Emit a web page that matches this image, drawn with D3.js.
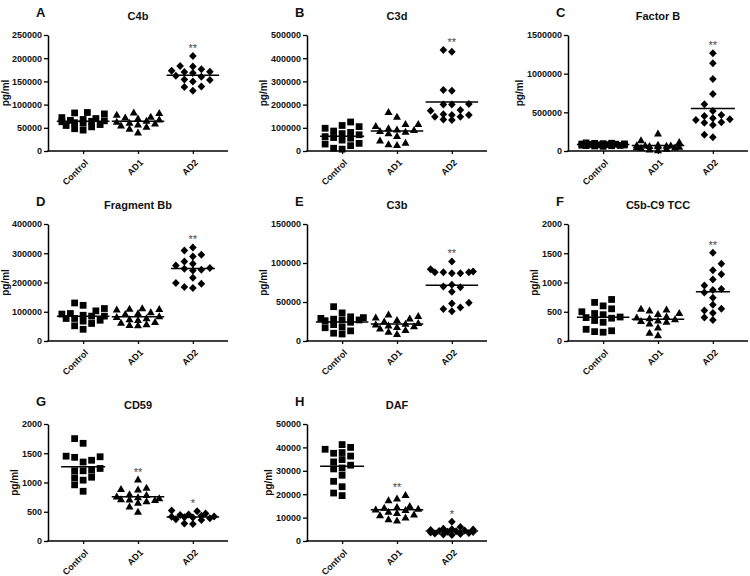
<!DOCTYPE html>
<html>
<head>
<meta charset="utf-8">
<script src="https://cdn.jsdelivr.net/npm/d3@7"></script>
<style>
  html, body { margin: 0; padding: 0; background: #fff; }
  text { font-family: Arial, "Liberation Sans", sans-serif; }
</style>
</head>
<body>
<script>
// ---------------- data ----------------
const categories = ["Control", "AD1", "AD2"];
const panelLetters = ["A", "B", "C", "D", "E", "F", "G", "H"];
const panelTitles = ["C4b", "C3d", "Factor B", "Fragment Bb", "C3b", "C5b-C9 TCC", "CD59", "DAF"];
const yMaxima = [250000, 500000, 1500000, 400000, 150000, 2000, 2000, 50000];
const yTickSteps = [50000, 100000, 500000, 100000, 50000, 500, 500, 10000];
const yLabel = "pg/ml";
const significance = [
  ["", "", "**"], ["", "", "**"], ["", "", "**"], ["", "", "**"],
  ["", "", "**"], ["", "", "**"], ["", "**", "*"], ["", "**", "*"]
];

// A  C4b
const c4bControl = [83000, 82000, 80000, 72000, 70000, 68000, 66000, 65000, 64000, 63000, 61000, 60000, 57000, 55000, 52000, 48000, 45000];
const c4bAD1 = [83000, 82000, 78000, 74000, 72000, 70000, 68000, 65000, 63000, 61000, 59000, 57000, 55000, 52000, 48000, 40000];
const c4bAD2 = [205000, 183000, 182000, 176000, 173000, 171000, 170000, 168000, 162000, 160000, 154000, 153000, 150000, 139000, 138000, 130000];
// B  C3d
const c3dControl = [125000, 110000, 105000, 98000, 86000, 80000, 75000, 70000, 62000, 58000, 55000, 47000, 33000, 30000, 23000, 12000, 8000];
const c3dAD1 = [168000, 148000, 116000, 116000, 108000, 98000, 93000, 90000, 86000, 83000, 76000, 65000, 45000, 36000, 29000, 26000];
const c3dAD2 = [435000, 428000, 263000, 260000, 203000, 200000, 200000, 177000, 174000, 158000, 155000, 155000, 148000, 148000, 136000, 134000];
// C  Factor B
const factorBControl = [105000, 100000, 98000, 95000, 92000, 90000, 88000, 85000, 82000, 80000, 78000, 75000, 72000, 70000, 68000, 65000, 60000];
const factorBAD1 = [225000, 138000, 116000, 80000, 75000, 72000, 70000, 68000, 65000, 60000, 55000, 50000, 45000, 40000, 30000, 20000, 10000];
const factorBAD2 = [1263000, 1134000, 931000, 737000, 603000, 517000, 465000, 453000, 422000, 409000, 401000, 371000, 366000, 336000, 211000, 177000];
// D  Fragment Bb
const bbControl = [130000, 122000, 111000, 103000, 94000, 92000, 88000, 85000, 85000, 77000, 77000, 71000, 68000, 60000, 52000, 40000];
const bbAD1 = [112000, 110000, 109000, 108000, 98000, 95000, 92000, 85000, 82000, 78000, 74000, 72000, 65000, 62000, 57000, 55000, 54000];
const bbAD2 = [320000, 309000, 295000, 289000, 272000, 264000, 258000, 250000, 247000, 244000, 241000, 216000, 198000, 196000, 185000, 181000];
// E  C3b
const c3bControl = [44000, 36000, 31000, 30000, 29000, 28000, 27000, 27000, 26000, 24000, 21000, 18000, 17000, 13000, 10000, 9000];
const c3bAD1 = [34000, 32000, 30000, 29000, 27000, 25000, 23000, 22000, 21000, 20000, 19000, 18000, 16000, 14000, 12000, 9000];
const c3bAD2 = [102000, 92000, 89000, 88000, 88000, 87000, 88000, 87000, 72000, 70000, 69000, 63000, 49000, 48000, 43000, 41000, 38000];
// F  C5b-C9 TCC
const tccControl = [710, 660, 600, 550, 500, 470, 450, 410, 400, 390, 350, 320, 200, 175, 160, 150];
const tccAD1 = [550, 540, 520, 480, 460, 420, 400, 390, 370, 350, 340, 330, 300, 230, 140, 100];
const tccAD2 = [1510, 1320, 1210, 1140, 1050, 950, 890, 870, 830, 740, 620, 550, 520, 480, 400, 360];
// G  CD59
const cd59Control = [1750, 1670, 1450, 1440, 1430, 1380, 1350, 1240, 1210, 1200, 1200, 1090, 1080, 1040, 960, 850];
const cd59AD1 = [1050, 910, 890, 880, 800, 785, 760, 750, 730, 715, 710, 700, 680, 655, 590, 500];
const cd59AD2 = [520, 510, 470, 455, 445, 430, 420, 415, 405, 400, 390, 370, 360, 300, 290];
// H  DAF
const dafControl = [41200, 40000, 39200, 37800, 37500, 36300, 34800, 33800, 32400, 31200, 30800, 28100, 25500, 23200, 20500, 19400];
const dafAD1 = [19700, 18200, 17400, 15000, 14500, 14200, 13800, 13500, 13200, 12500, 12000, 11300, 11000, 10000, 9300, 8800];
const dafAD2 = [8200, 6000, 5200, 5000, 4900, 4700, 4500, 4300, 4200, 4000, 3800, 3600, 3400, 3200, 3000, 2800, 2600];

const panelValues = [
  [c4bControl, c4bAD1, c4bAD2],
  [c3dControl, c3dAD1, c3dAD2],
  [factorBControl, factorBAD1, factorBAD2],
  [bbControl, bbAD1, bbAD2],
  [c3bControl, c3bAD1, c3bAD2],
  [tccControl, tccAD1, tccAD2],
  [cd59Control, cd59AD1, cd59AD2],
  [dafControl, dafAD1, dafAD2]
];

// ---------------- layout ----------------
const W = 750, H = 576;
const colX = [48, 307, 568];
const rowTop = [35, 224, 424];
const rowBottom = [151, 341, 541];
const axisLen = 180;

const svg = d3.select("body").append("svg").attr("width", W).attr("height", H);

const squarePath = d3.symbol().type(d3.symbolSquare).size(46)();
const trianglePath = "M0,-4L4,3L-4,3Z";
const diamondPath = "M0,-4L3.8,0L0,4L-3.8,0Z";
const shapes = [squarePath, trianglePath, diamondPath];

// collision-based beeswarm: lowest values placed first near the centre
function swarm(vals, y, cx) {
  const pts = vals.map(v => ({ v, py: y(v) })).sort((a, b) => a.v - b.v);
  const step = 4.25, sepX = 8, sepY = 7, maxOff = 22;
  const cands = [0];
  for (let k = 1; k * step <= maxOff; k++) cands.push(k * step, -k * step);
  const placed = [];
  pts.forEach((p, idx) => {
    let best = null, bestCost = Infinity;
    const cs = idx % 2 ? cands.map(c => -c) : cands;
    for (const o of cs) {
      let cost = 0;
      for (const q of placed) {
        const ox = sepX - Math.abs(q.dx - o), oy = sepY - Math.abs(q.py - p.py);
        if (ox > 0 && oy > 0) cost += ox * oy;
      }
      if (cost < 0.01) { best = o; bestCost = 0; break; }
      if (cost < bestCost - 1e-6) { bestCost = cost; best = o; }
    }
    p.dx = best;
    p.px = cx + best;
    placed.push(p);
  });
  return pts;
}

panelValues.forEach((groups, i) => {
  const col = i % 3, row = Math.floor(i / 3);
  const x0 = colX[col], top = rowTop[row], bottom = rowBottom[row];
  const g = svg.append("g");

  const y = d3.scaleLinear().domain([0, yMaxima[i]]).range([bottom, top]);
  const x = d3.scalePoint().domain(categories).range([x0, x0 + axisLen]).padding(0.64);

  // y axis
  const ya = g.append("g").attr("transform", `translate(${x0},0)`)
    .call(d3.axisLeft(y)
      .tickValues(d3.range(0, yMaxima[i] + 1, yTickSteps[i]))
      .tickFormat(d3.format("d"))
      .tickSize(4).tickSizeOuter(0).tickPadding(2));
  ya.select(".domain").attr("stroke", "#000").attr("stroke-width", 1.5);
  ya.selectAll(".tick line").attr("stroke", "#000").attr("stroke-width", 1.3);
  ya.selectAll(".tick text").attr("font-size", 9).attr("font-weight", "bold")
    .attr("font-family", "Arial, 'Liberation Sans', sans-serif").attr("fill", "#111");

  let maxW = 0;
  ya.selectAll(".tick text").each(function () { maxW = Math.max(maxW, this.getComputedTextLength()); });

  // x axis
  const xa = g.append("g").attr("transform", `translate(0,${bottom})`)
    .call(d3.axisBottom(x).tickSize(3).tickSizeOuter(0));
  xa.select(".domain").remove();
  xa.selectAll(".tick line").attr("stroke", "#000").attr("stroke-width", 1.3);
  xa.selectAll(".tick text")
    .attr("font-size", 9).attr("font-weight", "bold")
    .attr("font-family", "Arial, 'Liberation Sans', sans-serif").attr("fill", "#111")
    .attr("x", 0).attr("y", 0).attr("dy", "0.35em")
    .attr("text-anchor", "end")
    .attr("transform", "translate(3,10) rotate(-45)");
  g.append("line")
    .attr("x1", x0 - 0.75).attr("x2", x0 + axisLen)
    .attr("y1", bottom).attr("y2", bottom)
    .attr("stroke", "#000").attr("stroke-width", 1.5);

  // y label
  g.append("text")
    .attr("transform", `translate(${Math.max(x0 - 6 - maxW - 4, 9)},${(top + bottom) / 2}) rotate(-90)`)
    .attr("text-anchor", "middle")
    .attr("font-size", 10).attr("font-weight", "bold").attr("fill", "#111")
    .text(yLabel);

  // title & letter
  g.append("text")
    .attr("x", x0 + axisLen / 2).attr("y", top - 15)
    .attr("text-anchor", "middle")
    .attr("font-size", 11).attr("font-weight", "bold").attr("fill", "#111")
    .text(panelTitles[i]);
  g.append("text")
    .attr("x", x0 - 12).attr("y", top - 18)
    .attr("font-size", 13).attr("font-weight", "bold").attr("fill", "#111")
    .text(panelLetters[i]);

  // points
  groups.forEach((vals, c) => {
    const cx = x(categories[c]);
    const pts = swarm(vals, y, cx);
    g.append("g").selectAll("path").data(pts).join("path")
      .attr("d", shapes[c])
      .attr("transform", d => `translate(${d.px},${d.py})`)
      .attr("fill", "#000");
    const mean = d3.mean(vals);
    const w = Math.max(d3.max(pts, d => Math.abs(d.dx)) + 5, 17);
    g.append("line")
      .attr("x1", cx - w).attr("x2", cx + w)
      .attr("y1", y(mean)).attr("y2", y(mean))
      .attr("stroke", "#000").attr("stroke-width", 1.5);
    if (significance[i][c]) {
      g.append("text")
        .attr("x", cx).attr("y", y(d3.max(vals)) - 4)
        .attr("text-anchor", "middle")
        .attr("font-size", 11).attr("fill", "#444")
        .attr("opacity", 0.99)
        .text(significance[i][c]);
    }
  });
});
</script>
</body>
</html>
